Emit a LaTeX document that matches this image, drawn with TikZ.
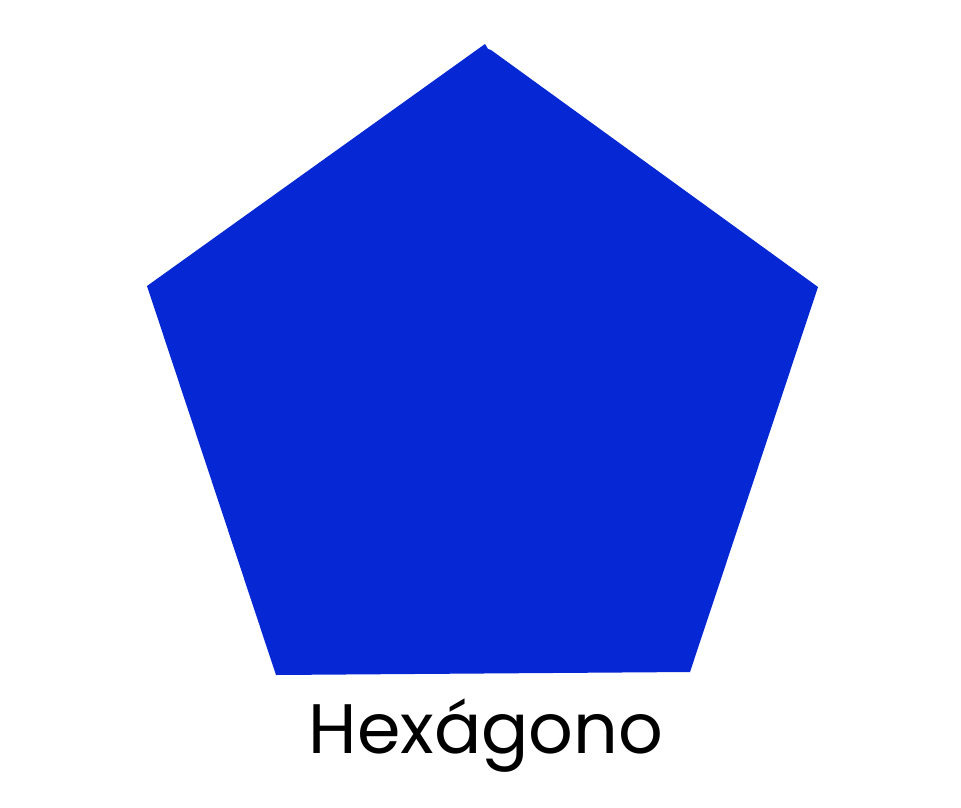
\documentclass[tikz,border=0pt]{standalone}
\usepackage{fontspec}
\setmainfont{Poppins}
\definecolor{penta}{HTML}{0627D4}
\begin{document}
\begin{tikzpicture}[x=1pt,y=-1pt]
\useasboundingbox (0,0) rectangle (961,808);
\fill[penta] (147,286) -- (485,44) -- (488,49) -- (491,50) -- (818,287) -- (690,672) -- (276,675) -- cycle;
\node[anchor=base, font=\fontsize{70}{76}\selectfont, inner sep=0pt] (label) at (486,753) {Hexágono};
\end{tikzpicture}
\end{document}
